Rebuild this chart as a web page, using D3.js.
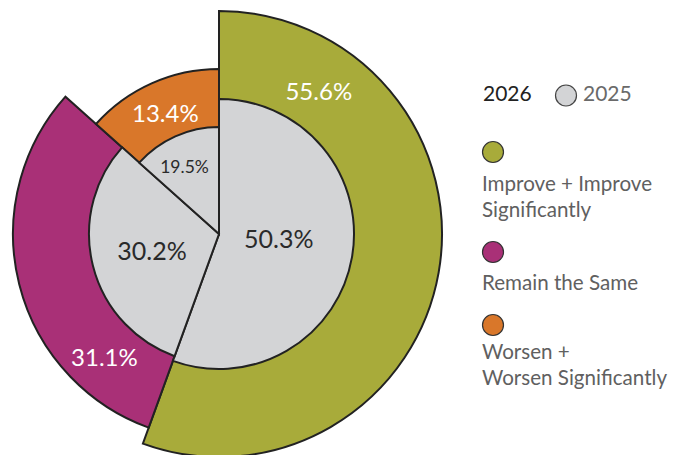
<!DOCTYPE html>
<html>
<head>
<meta charset="utf-8">
<script src="https://cdn.jsdelivr.net/npm/d3@7"></script>
<style>
  html, body { margin: 0; padding: 0; background: #fff; }
  svg { display: block; font-family: Lato, "Open Sans", sans-serif; }
</style>
</head>
<body>
<svg id="chart" width="685" height="455"></svg>
<script>
// Outlook categories, 2026 shares (outer ring) and 2025 shares (inner pie)
const categories = ["Improve + Improve Significantly", "Remain the Same", "Worsen + Worsen Significantly"];
const legendLines = [["Improve + Improve", "Significantly"], ["Remain the Same"], ["Worsen +", "Worsen Significantly"]];
const values2026 = [55.6, 31.1, 13.4];
const values2025 = [50.3, 30.2, 19.5];
const yearLabels = ["2026", "2025"];

// Styling
const colors = ["#a8ab3a", "#a93077", "#d9772a"];
const grey = "#d3d4d6";
const strokeColor = "#222";
const outerRadii = [223, 206, 165];
const innerRadii = [135, 130, 107];
// label placement: [angle in degrees clockwise from 12 o'clock, distance from centre]
const outerLabelPos = [[35, 174], [223, 168], [336, 132]];
const innerLabelPos = [[95, 60], [256, 69], [333, 76]];
const innerLabelSize = [25, 25, 17.5];

const cx = 219, cy = 234;
const svg = d3.select("#chart");
const g = svg.append("g").attr("transform", `translate(${cx},${cy})`);

const pie = d3.pie().sort(null).startAngle(0).endAngle(2 * Math.PI);
const slices = pie(values2026);

// colored outer slices, variable radius
g.selectAll("path.outer")
  .data(slices)
  .join("path")
  .attr("class", "outer")
  .attr("d", (d, i) => d3.arc().innerRadius(0).outerRadius(outerRadii[i])(d))
  .attr("fill", (d, i) => colors[i])
  .attr("stroke", strokeColor)
  .attr("stroke-width", 2)
  .attr("stroke-linejoin", "miter");

// grey inner slices for 2025
g.selectAll("path.inner")
  .data(slices)
  .join("path")
  .attr("class", "inner")
  .attr("d", (d, i) => d3.arc().innerRadius(0).outerRadius(innerRadii[i])(d))
  .attr("fill", grey)
  .attr("stroke", strokeColor)
  .attr("stroke-width", 2);

const polar = ([deg, r]) => {
  const a = deg * Math.PI / 180;
  return [r * Math.sin(a), -r * Math.cos(a)];
};

g.selectAll("text.outerLabel")
  .data(values2026)
  .join("text")
  .attr("class", "outerLabel")
  .attr("x", (d, i) => polar(outerLabelPos[i])[0])
  .attr("y", (d, i) => polar(outerLabelPos[i])[1])
  .attr("dy", "0.36em")
  .attr("text-anchor", "middle")
  .attr("fill", "#fff")
  .attr("font-size", 24)
  .text(d => d.toFixed(1) + "%");

g.selectAll("text.innerLabel")
  .data(values2025)
  .join("text")
  .attr("class", "innerLabel")
  .attr("x", (d, i) => polar(innerLabelPos[i])[0])
  .attr("y", (d, i) => polar(innerLabelPos[i])[1])
  .attr("dy", "0.36em")
  .attr("text-anchor", "middle")
  .attr("fill", "#2a2a2a")
  .attr("font-size", (d, i) => innerLabelSize[i])
  .text(d => d.toFixed(1) + "%");

// Legend
const lg = svg.append("g");
lg.append("text").attr("x", 483).attr("y", 101)
  .attr("font-size", 21).attr("fill", "#222").text(yearLabels[0]);
lg.append("circle").attr("cx", 566).attr("cy", 95.5).attr("r", 10.5)
  .attr("fill", grey).attr("stroke", "#444").attr("stroke-width", 1.2);
lg.append("text").attr("x", 583).attr("y", 101)
  .attr("font-size", 21).attr("fill", "#6a6a6a").text(yearLabels[1]);

const itemCircleY = [152, 252, 325];
const itemTextY = [191, 289.5, 358.5];
categories.forEach((c, i) => {
  lg.append("circle").attr("cx", 493).attr("cy", itemCircleY[i]).attr("r", 10.5)
    .attr("fill", colors[i]).attr("stroke", "#333").attr("stroke-width", 1.2);
  const t = lg.append("text").attr("x", 482).attr("y", itemTextY[i])
    .attr("font-size", 20.6).attr("fill", "#606060");
  legendLines[i].forEach((line, j) => {
    t.append("tspan").attr("x", 482).attr("dy", j === 0 ? 0 : 26).text(line);
  });
});
</script>
</body>
</html>
